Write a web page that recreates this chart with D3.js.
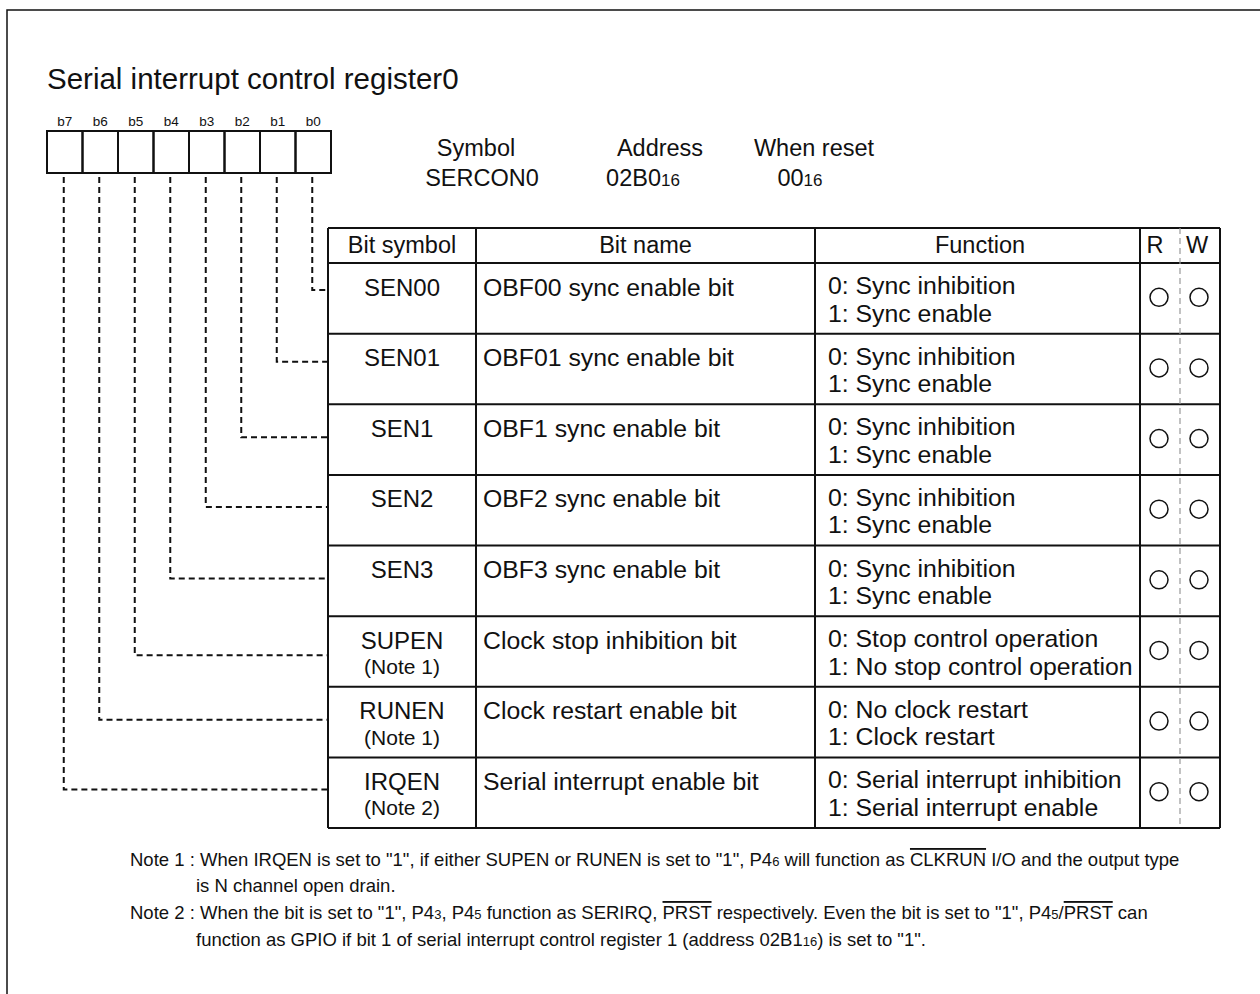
<!DOCTYPE html>
<html>
<head>
<meta charset="utf-8">
<script src="https://cdn.jsdelivr.net/npm/d3@7"></script>
<style>
  html, body { margin: 0; padding: 0; background: #fff; }
  svg { display: block; font-family: "Liberation Sans", Arial, Helvetica, sans-serif; }
  text { fill: #111; }
</style>
</head>
<body>
<svg id="chart" width="1260" height="994"></svg>
<script>
// ---------- data ----------
const title = "Serial interrupt control register0";
const bitLabels = ["b7", "b6", "b5", "b4", "b3", "b2", "b1", "b0"];
const headerLabels = ["Symbol", "Address", "When reset"];
const headerValues = [["SERCON0", ""], ["02B0", "16"], ["00", "16"]];
const columnTitles = ["Bit symbol", "Bit name", "Function", "R", "W"];
const bitSymbols = ["SEN00", "SEN01", "SEN1", "SEN2", "SEN3", "SUPEN", "RUNEN", "IRQEN"];
const bitSymbolNotes = ["", "", "", "", "", "(Note 1)", "(Note 1)", "(Note 2)"];
const bitOf = ["b0", "b1", "b2", "b3", "b4", "b5", "b6", "b7"];
const bitNames = [
  "OBF00 sync enable bit", "OBF01 sync enable bit", "OBF1 sync enable bit",
  "OBF2 sync enable bit", "OBF3 sync enable bit", "Clock stop inhibition bit",
  "Clock restart enable bit", "Serial interrupt enable bit"
];
const function0 = [
  "0: Sync inhibition", "0: Sync inhibition", "0: Sync inhibition", "0: Sync inhibition",
  "0: Sync inhibition", "0: Stop control operation", "0: No clock restart",
  "0: Serial interrupt inhibition"
];
const function1 = [
  "1: Sync enable", "1: Sync enable", "1: Sync enable", "1: Sync enable",
  "1: Sync enable", "1: No stop control operation", "1: Clock restart",
  "1: Serial interrupt enable"
];
const readable = [true, true, true, true, true, true, true, true];
const writable = [true, true, true, true, true, true, true, true];
// notes: segments [text, style] where style: "" normal, "sub" small, "over" overlined
const noteLines = [
  [["Note 1 : When IRQEN is set to \"1\", if either SUPEN or RUNEN is set to \"1\", P4", ""], ["6", "sub"], [" will function as ", ""], ["CLKRUN", "over"], [" I/O and the output type", ""]],
  [["is N channel open drain.", ""]],
  [["Note 2 : When the bit is set to \"1\", P4", ""], ["3", "sub"], [", P4", ""], ["5", "sub"], [" function as SERIRQ, ", ""], ["PRST", "over"], [" respectively. Even the bit is set to \"1\", P4", ""], ["5", "sub"], ["/", ""], ["PRST", "over"], [" can", ""]],
  [["function as GPIO if bit 1 of serial interrupt control register 1 (address 02B1", ""], ["16", "sub"], [") is set to \"1\".", ""]]
];
const noteIndent = [false, true, false, true];

// ---------- layout ----------
const svg = d3.select("#chart");
const STROKE = "#111";

// outer frame
svg.append("rect").attr("x", 7).attr("y", 10).attr("width", 1400).attr("height", 1200)
  .attr("fill", "none").attr("stroke", STROKE).attr("stroke-width", 1.5);

// title
svg.append("text").attr("x", 47).attr("y", 89).attr("font-size", 29.5).text(title);

// bit boxes
const xBit = d3.scaleBand().domain(bitLabels).range([47, 331]);
const boxTop = 131, boxBottom = 173;
svg.append("g").selectAll("rect").data(bitLabels).join("rect")
  .attr("x", d => xBit(d)).attr("y", boxTop)
  .attr("width", xBit.bandwidth()).attr("height", boxBottom - boxTop)
  .attr("fill", "none").attr("stroke", STROKE).attr("stroke-width", 2);
svg.append("g").selectAll("text").data(bitLabels).join("text")
  .attr("x", d => xBit(d) + xBit.bandwidth() / 2).attr("y", 126)
  .attr("text-anchor", "middle").attr("font-size", 13.5).text(d => d);

// register header info
const headerX = [476, 660, 814];
const valueX = [482, 643, 800];
svg.append("g").selectAll("text").data(headerLabels).join("text")
  .attr("x", (d, i) => headerX[i]).attr("y", 156)
  .attr("text-anchor", "middle").attr("font-size", 23.5).text(d => d);
const hv = svg.append("g").selectAll("text").data(headerValues).join("text")
  .attr("x", (d, i) => valueX[i]).attr("y", 186)
  .attr("text-anchor", "middle").attr("font-size", 23.5);
hv.append("tspan").text(d => d[0]);
hv.append("tspan").attr("font-size", 17).text(d => d[1]);

// table
const colX = [328, 476, 815, 1140, 1220];
const rwMid = 1180;
const tableTop = 228, headBottom = 263, tableBottom = 828;
const yRow = d3.scaleBand().domain(bitSymbols).range([headBottom, tableBottom]);
const rh = yRow.bandwidth();

const tg = svg.append("g");
// horizontal lines
const hLines = [tableTop, headBottom].concat(bitSymbols.map(s => yRow(s) + rh));
tg.selectAll("line.h").data(hLines).join("line").attr("class", "h")
  .attr("x1", colX[0]).attr("x2", colX[4]).attr("y1", d => d).attr("y2", d => d)
  .attr("stroke", STROKE).attr("stroke-width", 2);
// vertical lines
tg.selectAll("line.v").data(colX).join("line").attr("class", "v")
  .attr("x1", d => d).attr("x2", d => d).attr("y1", tableTop).attr("y2", tableBottom)
  .attr("stroke", STROKE).attr("stroke-width", 2);
// R/W dashed divider
tg.append("line").attr("x1", rwMid).attr("x2", rwMid).attr("y1", tableTop).attr("y2", tableBottom)
  .attr("stroke", "#999").attr("stroke-width", 1.2).attr("stroke-dasharray", "6,4");

// column titles
const titleX = [402, 645.5, 980, 1155, 1197];
tg.selectAll("text.ct").data(columnTitles).join("text").attr("class", "ct")
  .attr("x", (d, i) => titleX[i]).attr("y", 253)
  .attr("text-anchor", "middle").attr("font-size", 23.5).text(d => d);

// rows
const rows = tg.selectAll("g.row").data(bitSymbols).join("g").attr("class", "row")
  .attr("transform", d => `translate(0,${yRow(d)})`);
rows.append("text").attr("x", 402).attr("y", 32.5).attr("text-anchor", "middle")
  .attr("font-size", 24).text(d => d);
rows.append("text").attr("x", 402).attr("y", 58).attr("text-anchor", "middle")
  .attr("font-size", 21).text((d, i) => bitSymbolNotes[i]);
rows.append("text").attr("x", 483).attr("y", 32.5)
  .attr("font-size", 24.8).text((d, i) => bitNames[i]);
rows.append("text").attr("x", 828).attr("y", 31)
  .attr("font-size", 24.8).text((d, i) => function0[i]);
rows.append("text").attr("x", 828).attr("y", 58.5)
  .attr("font-size", 24.8).text((d, i) => function1[i]);
rows.filter((d, i) => readable[i]).append("circle")
  .attr("cx", 1159).attr("cy", rh / 2 - 1).attr("r", 9)
  .attr("fill", "none").attr("stroke", STROKE).attr("stroke-width", 1.5);
rows.filter((d, i) => writable[i]).append("circle")
  .attr("cx", 1199).attr("cy", rh / 2 - 1).attr("r", 9)
  .attr("fill", "none").attr("stroke", STROKE).attr("stroke-width", 1.5);

// dashed connectors from bit boxes to rows
const linkOffset = [27, 28, 33, 32, 33, 39, 33, 32];
const conn = svg.append("g");
bitSymbols.forEach((s, i) => {
  const bx = xBit(bitOf[i]) + xBit.bandwidth() / 2 - 1;
  const y = yRow(s) + linkOffset[i];
  conn.append("path")
    .attr("d", d3.line()([[bx, boxBottom + 4], [bx, y], [colX[0], y]]))
    .attr("fill", "none").attr("stroke", STROKE).attr("stroke-width", 2)
    .attr("stroke-dasharray", "6,4");
});

// notes
const noteY = [866, 892, 919, 946];
const ng = svg.append("g");
noteLines.forEach((segs, li) => {
  const t = ng.append("text").attr("x", noteIndent[li] ? 196 : 130).attr("y", noteY[li])
    .attr("font-size", 18.5);
  segs.forEach(([txt, style]) => {
    const ts = t.append("tspan").text(txt);
    if (style === "sub") ts.attr("font-size", 13);
    if (style === "over") ts.style("text-decoration", "overline");
  });
});
</script>
</body>
</html>
